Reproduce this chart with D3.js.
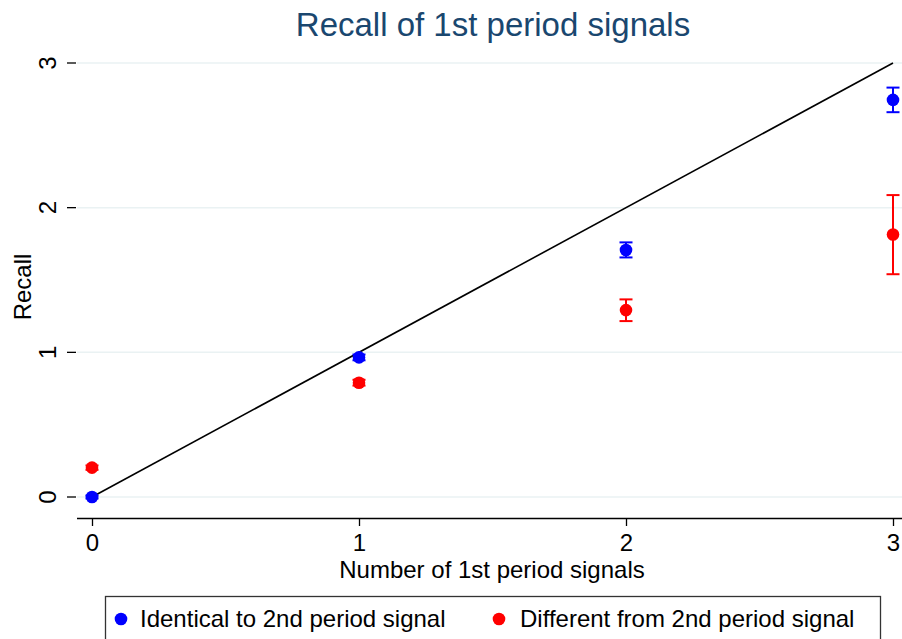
<!DOCTYPE html>
<html>
<head>
<meta charset="utf-8">
<script src="https://cdn.jsdelivr.net/npm/d3@7"></script>
<style>
  body { margin: 0; background: #fff; }
  svg { display: block; font-family: "Liberation Sans", Arial, Helvetica, sans-serif; }
</style>
</head>
<body>
<svg id="chart" width="902" height="639"></svg>
<script>
// Recall of 1st period signals, by number of signals (means with error bars).
const signals = [0, 1, 2, 3];
const identical = [0.0, 0.965, 1.707, 2.745];
const identicalLo = [-0.01, 0.945, 1.656, 2.66];
const identicalHi = [0.01, 0.985, 1.76, 2.83];
const different = [0.203, 0.79, 1.292, 1.815];
const differentLo = [0.188, 0.77, 1.216, 1.54];
const differentHi = [0.218, 0.81, 1.366, 2.087];
const yTicks = [0, 1, 2, 3];

const svg = d3.select("#chart");
const x = d3.scaleLinear().domain([0, 3]).range([92, 893]);
const y = d3.scaleLinear().domain([0, 3]).range([497, 63]);
const fs = 24;

// gridlines
svg.append("g")
  .selectAll("line")
  .data(yTicks)
  .join("line")
  .attr("x1", 77).attr("x2", 902)
  .attr("y1", (d) => y(d)).attr("y2", (d) => y(d))
  .attr("stroke", "#eaf2f3").attr("stroke-width", 1.5);

// y axis: ticks + rotated labels, no spine
const yAxis = svg.append("g").attr("transform", "translate(76,0)")
  .call(d3.axisLeft(y).tickValues(yTicks).tickSize(9).tickFormat(d3.format("d")));
yAxis.select(".domain").remove();
yAxis.selectAll("line").attr("stroke", "#000").attr("stroke-width", 1.3);
yAxis.selectAll("text")
  .attr("font-size", fs).attr("fill", "#000")
  .attr("transform", function (d) { return `rotate(-90, -28, ${y(d)})`; })
  .attr("x", -28).attr("y", (d) => y(d)).attr("dy", "0.35em")
  .attr("text-anchor", "middle")
  .each(function (d) { d3.select(this.parentNode).attr("transform", null); });
yAxis.selectAll(".tick line").attr("transform", (d) => `translate(0,${y(d)})`);

// x axis
const xAxis = svg.append("g").attr("transform", "translate(0,518)")
  .call(d3.axisBottom(x).tickValues(signals).tickSize(8).tickSizeOuter(0).tickFormat(d3.format("d")));
xAxis.select(".domain").attr("d", "M77,0.5H902").attr("stroke", "#000").attr("stroke-width", 1.5);
xAxis.selectAll(".tick line").attr("stroke", "#000").attr("stroke-width", 1.3);
xAxis.selectAll(".tick text").attr("font-size", fs).attr("fill", "#000").attr("y", 16);

// 45-degree reference line
svg.append("line")
  .attr("x1", x(0)).attr("y1", y(0)).attr("x2", x(3)).attr("y2", y(3))
  .attr("stroke", "#000").attr("stroke-width", 1.6);

function drawSeries(vals, lo, hi, color) {
  const g = svg.append("g");
  const cap = 6.5;
  signals.forEach((s, i) => {
    const cx = x(s);
    g.append("line").attr("x1", cx).attr("x2", cx).attr("y1", y(lo[i])).attr("y2", y(hi[i]))
      .attr("stroke", color).attr("stroke-width", 2);
    [lo[i], hi[i]].forEach((v) => {
      g.append("line").attr("x1", cx - cap).attr("x2", cx + cap).attr("y1", y(v)).attr("y2", y(v))
        .attr("stroke", color).attr("stroke-width", 2);
    });
  });
  g.selectAll("circle").data(vals).join("circle")
    .attr("cx", (d, i) => x(signals[i])).attr("cy", (d) => y(d)).attr("r", 6.3)
    .attr("fill", color);
}
drawSeries(different, differentLo, differentHi, "#ff0000");
drawSeries(identical, identicalLo, identicalHi, "#0000ff");

// titles
svg.append("text").attr("x", 493).attr("y", 36).attr("text-anchor", "middle")
  .attr("font-size", 33).attr("fill", "#1a476f").text("Recall of 1st period signals");
svg.append("text").attr("x", 492).attr("y", 578).attr("text-anchor", "middle")
  .attr("font-size", fs).attr("fill", "#000").text("Number of 1st period signals");
svg.append("text").attr("transform", "translate(31,287) rotate(-90)").attr("text-anchor", "middle")
  .attr("font-size", fs).attr("fill", "#000").text("Recall");

// legend
const legend = svg.append("g");
legend.append("rect").attr("x", 105.5).attr("y", 596.5).attr("width", 775).attr("height", 60)
  .attr("fill", "#fff").attr("stroke", "#333").attr("stroke-width", 1.3);
const items = [
  { label: "Identical to 2nd period signal", color: "#0000ff", mx: 121, tx: 140 },
  { label: "Different from 2nd period signal", color: "#ff0000", mx: 499, tx: 520 },
];
items.forEach((it) => {
  legend.append("circle").attr("cx", it.mx).attr("cy", 619).attr("r", 6.3).attr("fill", it.color);
  legend.append("text").attr("x", it.tx).attr("y", 627).attr("font-size", fs).attr("fill", "#000").text(it.label);
});
</script>
</body>
</html>
